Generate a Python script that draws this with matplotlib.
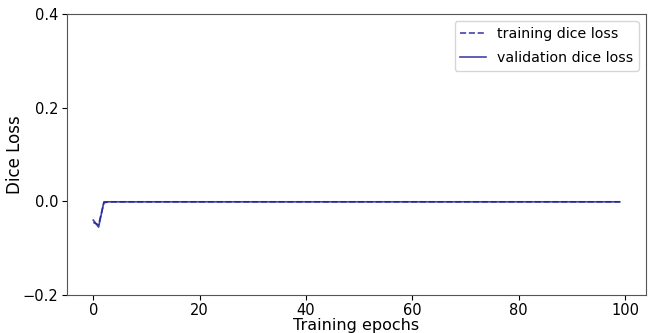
import matplotlib
matplotlib.use('Agg')
import matplotlib.pyplot as plt

# Dice loss per epoch
epochs = list(range(100))
train_dice = [-0.045, -0.05, -0.003] + [-0.001] * 97
val_dice = [-0.04, -0.055, -0.001] + [-0.001] * 97

fig = plt.figure(figsize=(6.5, 3.33), dpi=100)
ax = fig.add_axes([0.103, 0.114, 0.891, 0.844])

ax.plot(epochs, train_dice, '--', color='#22229a', linewidth=1.2, alpha=0.85,
        label='training dice loss')
ax.plot(epochs, val_dice, '-', color='#22229a', linewidth=1.2, alpha=0.85,
        label='validation dice loss')

ax.set_ylim(-0.2, 0.4)
ax.set_yticks([-0.2, 0.0, 0.2, 0.4])
ax.set_xticks([0, 20, 40, 60, 80, 100])
ax.set_xlabel('Training epochs', fontsize=11.5, labelpad=0)
ax.set_ylabel('Dice Loss', fontsize=12, labelpad=-1)
ax.tick_params(labelsize=10.5, pad=2.5)
for s in ax.spines.values():
    s.set_color('#555555')
ax.legend(fontsize=10.2, loc='upper right', handlelength=1.8,
          labelspacing=0.75)

fig.savefig('out.png', dpi=100)
